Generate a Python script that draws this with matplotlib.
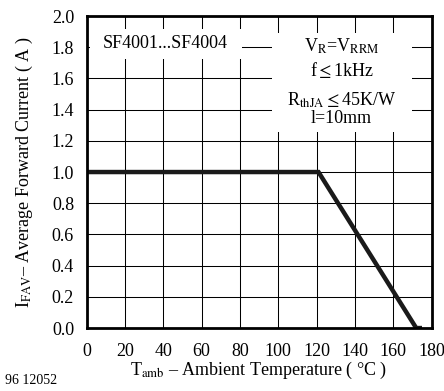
import numpy as np
import matplotlib.pyplot as plt
from matplotlib.patches import Rectangle

# Derating curve: I_FAV vs T_amb
temp = [0, 121, 172, 175]
current = [1.0, 1.0, 0.0, 0.0]

x_ticks = [0, 20, 40, 60, 80, 100, 120, 140, 160, 180]
y_ticks = [0.0, 0.2, 0.4, 0.6, 0.8, 1.0, 1.2, 1.4, 1.6, 1.8, 2.0]

plt.rcParams['font.family'] = ['Liberation Serif', 'DejaVu Serif']
plt.rcParams['mathtext.fontset'] = 'stix'


def plot():
   fig = plt.figure(figsize=(4.44, 3.91), dpi=100, facecolor='white')
   ax = fig.add_axes([0.195, 0.161, 0.777, 0.798])
   ax.set_xlim(0, 180)
   ax.set_ylim(0, 2.0)
   ax.set_xticks(x_ticks)
   ax.set_yticks(y_ticks)
   ax.set_xticklabels([str(t) for t in x_ticks])
   ax.set_yticklabels(['%.1f' % t for t in y_ticks])
   ax.tick_params(length=0, labelsize=13, pad=9)
   ax.tick_params(axis='x', pad=11)
   ax.grid(True, color='black', linewidth=0.75)
   ax.set_axisbelow(True)
   for s in ax.spines.values():
      s.set_linewidth(2.0)
      s.set_zorder(5)

   # white boxes behind the annotations cut the grid
   ax.add_patch(Rectangle((1.8, 1.724), 79.2, 0.193, facecolor='white',
      edgecolor='none', zorder=2))
   ax.add_patch(Rectangle((96.7, 1.256), 73.0, 0.634, facecolor='white',
      edgecolor='none', zorder=2))

   ax.plot(temp, current, color='#1a1a1a', linewidth=3.2, zorder=4,
      solid_capstyle='butt', solid_joinstyle='miter')

   ax.text(41, 1.825, 'SF4001...SF4004', fontsize=13, ha='center',
      va='center', zorder=3)
   ax.text(133, 1.805, r'V$_{\mathrm{R}}$=V$_{\mathrm{RRM}}$', fontsize=13,
      ha='center', va='center', zorder=3)
   ax.text(133, 1.655, r'f$\leq$1kHz', fontsize=13, ha='center',
      va='center', zorder=3)
   ax.text(133, 1.46, r'R$_{\mathrm{thJA}}$$\leq$45K/W', fontsize=13,
      ha='center', va='center', zorder=3)
   ax.text(133, 1.345, 'l=10mm', fontsize=13, ha='center', va='center',
      zorder=3)

   ax.set_xlabel(r'T$_{\mathrm{amb}}$ – Ambient Temperature ( °C )',
      fontsize=13, labelpad=0)
   ax.set_ylabel(r'I$_{\mathrm{FAV}}$– Average Forward Current ( A )',
      fontsize=13, labelpad=12)
   fig.text(0.012, 0.028, '96 12052', fontsize=10, ha='left', va='center')

   fig.savefig('out.png', dpi=100)


plot()
